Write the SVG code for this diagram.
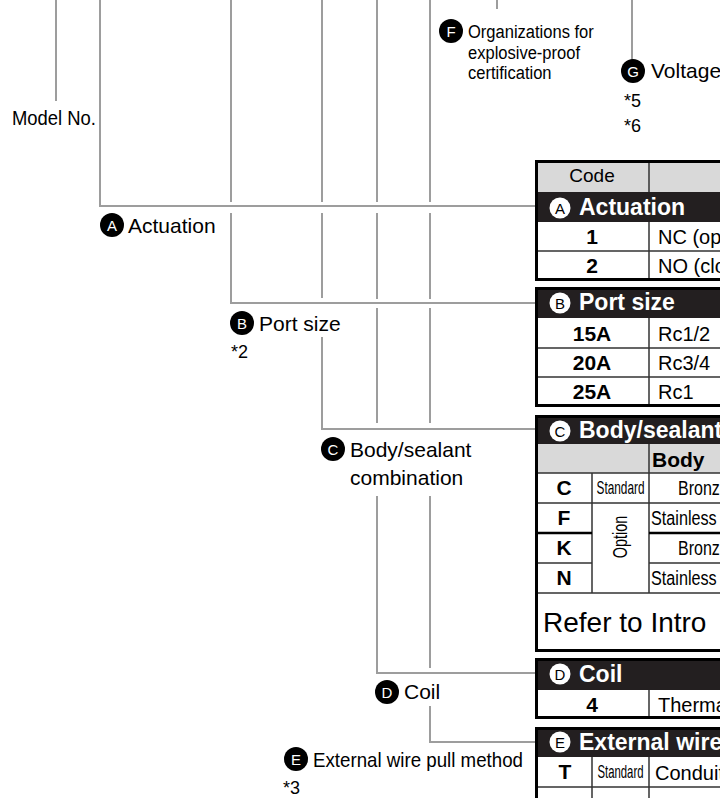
<svg xmlns="http://www.w3.org/2000/svg" width="720" height="798" viewBox="0 0 720 798">
<style>
text{font-family:"Liberation Sans",Arial,sans-serif;fill:#000}
.lb{font-size:21px}
.nr{font-size:19px}
.st{font-size:18px}
.ln{fill:none;stroke:#9d9d9d;stroke-width:2}
.bk{fill:#000}
.ci{fill:#fff;font-size:15px;text-anchor:middle}
.hc{fill:#fff}
.hl{fill:#000;font-size:15px;text-anchor:middle}
.hd{fill:#231f20}
.ht{fill:#fff;font-size:23px;font-weight:bold}
.gr{fill:#d9d9d9}
.bd{fill:none;stroke:#000;stroke-width:3}
.rl{fill:none;stroke:#333;stroke-width:1.5}
.cd{font-size:21px;font-weight:bold;text-anchor:middle}
.tx{font-size:20px}
</style>
<rect width="720" height="798" fill="#fff"/>
<g id="connectors">
<path class="ln" d="M56 0V101M100 0V206H535M231 0V202M231 213V303H535M322 0V202M322 213V298M322 337V429H535M377 0V202M377 213V299M377 308V423M377 496V673H535M430 0V202M430 213V299M430 308V423M430 496V668M430 706V742H535M497 0V9M632 0V60"/>
</g>
<g id="model-no"><text class="lb" x="12" y="125" textLength="84" lengthAdjust="spacingAndGlyphs">Model No.</text></g>
<g id="label-f">
<circle class="bk" cx="451" cy="31" r="12"/><text class="ci" x="451" y="36.5">F</text>
<text class="nr" transform="translate(468,38) scale(0.87,1)">Organizations for</text>
<text class="nr" transform="translate(468,58.5) scale(0.87,1)">explosive-proof</text>
<text class="nr" transform="translate(468,79) scale(0.87,1)">certification</text>
</g>
<g id="label-g">
<circle class="bk" cx="633" cy="71" r="12"/><text class="ci" x="633" y="76.5">G</text>
<text class="lb" x="651" y="78">Voltage</text>
<text class="st" x="624" y="107">*5</text>
<text class="st" x="624" y="132">*6</text>
</g>
<g id="label-a">
<circle class="bk" cx="112" cy="225" r="12"/><text class="ci" x="112" y="230.5">A</text>
<text class="lb" x="128" y="233">Actuation</text>
</g>
<g id="label-b">
<circle class="bk" cx="242" cy="323" r="12"/><text class="ci" x="242" y="328.5">B</text>
<text class="lb" x="259" y="331">Port size</text>
<text class="st" x="231" y="358">*2</text>
</g>
<g id="label-c">
<circle class="bk" cx="333" cy="449" r="12"/><text class="ci" x="333" y="454.5">C</text>
<text class="lb" x="350" y="457">Body/sealant</text>
<text class="lb" x="350" y="485">combination</text>
</g>
<g id="label-d">
<circle class="bk" cx="387" cy="692" r="12"/><text class="ci" x="387" y="697.5">D</text>
<text class="lb" x="404" y="699">Coil</text>
</g>
<g id="label-e">
<circle class="bk" cx="296" cy="759" r="12"/><text class="ci" x="296" y="764.5">E</text>
<text class="lb" x="313" y="767" textLength="210" lengthAdjust="spacingAndGlyphs">External wire pull method</text>
<text class="st" x="283" y="794">*3</text>
</g>
<g id="table-a">
<rect class="gr" x="536" y="160" width="200" height="32"/>
<rect class="hd" x="536" y="192" width="200" height="30"/>
<path class="rl" d="M536 251H730M649 160V192M649 222V280"/>
<rect class="bd" x="536.5" y="161.5" width="300" height="118"/>
<text x="592" y="182" font-size="19" text-anchor="middle">Code</text>
<circle class="hc" cx="560" cy="208" r="10.5"/><text class="hl" x="560" y="213.5">A</text>
<text class="ht" x="579" y="215">Actuation</text>
<text class="cd" x="592" y="244">1</text><text class="tx" x="658" y="244">NC (open</text>
<text class="cd" x="592" y="273">2</text><text class="tx" x="658" y="273">NO (close</text>
</g>
<g id="table-b">
<rect class="hd" x="536" y="287" width="200" height="31"/>
<path class="rl" d="M536 348H730M536 377H730M649 318V407"/>
<rect class="bd" x="536.5" y="288.5" width="300" height="117"/>
<circle class="hc" cx="560" cy="303" r="10.5"/><text class="hl" x="560" y="308.5">B</text>
<text class="ht" x="579" y="310">Port size</text>
<text class="cd" x="592" y="341">15A</text><text class="tx" x="658" y="341">Rc1/2</text>
<text class="cd" x="592" y="370">20A</text><text class="tx" x="658" y="370">Rc3/4</text>
<text class="cd" x="592" y="399">25A</text><text class="tx" x="658" y="399">Rc1</text>
</g>
<g id="table-c">
<rect class="hd" x="536" y="415" width="200" height="29"/>
<rect class="gr" x="536" y="444" width="200" height="29"/>
<path class="rl" d="M536 473H730M536 503H730M536 563H592M649 563H730M536 593H730M592 473V593M649 444V593"/>
<path fill="none" stroke="#000" stroke-width="2.5" d="M536 533H592M649 533H730"/>
<rect class="bd" x="536.5" y="416.5" width="300" height="234"/>
<circle class="hc" cx="560" cy="431" r="10.5"/><text class="hl" x="560" y="436.5">C</text>
<text class="ht" x="579" y="438">Body/sealant</text>
<text x="652" y="467" font-size="21" font-weight="bold">Body</text>
<text class="cd" x="564" y="495">C</text>
<text class="cd" x="564" y="525">F</text>
<text class="cd" x="564" y="555">K</text>
<text class="cd" x="564" y="585">N</text>
<text x="620.5" y="494" font-size="19" text-anchor="middle" textLength="48" lengthAdjust="spacingAndGlyphs">Standard</text>
<text x="0" y="0" font-size="20" text-anchor="middle" transform="translate(627,537) rotate(-90) scale(0.72,1)">Option</text>
<text class="tx" transform="translate(678,495) scale(0.8,1)">Bronze</text>
<text class="tx" transform="translate(651,525) scale(0.81,1)">Stainless</text>
<text class="tx" transform="translate(678,555) scale(0.8,1)">Bronze</text>
<text class="tx" transform="translate(651,585) scale(0.81,1)">Stainless</text>
<text x="543" y="632" font-size="28">Refer to Intro</text>
</g>
<g id="table-d">
<rect class="hd" x="536" y="658" width="200" height="32"/>
<path class="rl" d="M649 690V719"/>
<rect class="bd" x="536.5" y="659.5" width="300" height="58"/>
<circle class="hc" cx="560" cy="674" r="10.5"/><text class="hl" x="560" y="679.5">D</text>
<text class="ht" x="579" y="682">Coil</text>
<text class="cd" x="592" y="712">4</text><text class="tx" x="658" y="712">Thermal</text>
</g>
<g id="table-e">
<rect class="hd" x="536" y="727" width="200" height="30"/>
<path class="rl" d="M536 787H730M592 757V800M649 757V800"/>
<rect class="bd" x="536.5" y="728.5" width="300" height="100"/>
<circle class="hc" cx="560" cy="742" r="10.5"/><text class="hl" x="560" y="747.5">E</text>
<text class="ht" x="579" y="750">External wire</text>
<text class="cd" x="565" y="779">T</text>
<text x="620.5" y="778" font-size="19" text-anchor="middle" textLength="46" lengthAdjust="spacingAndGlyphs">Standard</text>
<text class="tx" x="655" y="780">Conduit</text>
</g>
</svg>
